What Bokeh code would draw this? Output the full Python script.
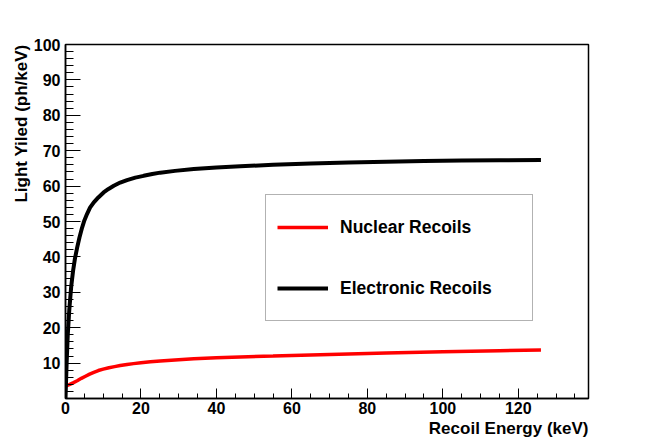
from bokeh.plotting import figure
from bokeh.models import (Range1d, FixedTicker, Title, Legend, LegendItem)
from bokeh.embed import file_html
from bokeh.resources import INLINE

# Data
energy_er = [0, 0.3, 0.6, 1, 1.5, 2, 2.5, 3.1, 3.7, 4.4, 5, 5.7, 6.5, 7.5, 8.7,
             10.1, 11.4, 12.8, 14.5, 16.3, 18.5, 20.7, 23, 25.1, 29, 34, 40,
             46.3, 55, 65, 75, 85, 95, 105, 115, 126]
ly_er = [0, 10, 18, 25, 31.5, 36, 39.5, 42.7, 45.5, 48.3, 50.3, 52.1, 53.9, 55.4, 56.8,
         58.2, 59.2, 60.1, 61.0, 61.7, 62.4, 62.9, 63.4, 63.8, 64.3, 64.8, 65.25,
         65.6, 66.0, 66.35, 66.65, 66.9, 67.1, 67.2, 67.3, 67.4]

energy_nr = [0, 1, 2, 3.1, 4.2, 5.3, 6.4, 7.5, 8.7, 10, 11.5, 13, 14.5, 16.3, 18,
             20, 22.5, 25.1, 30, 34, 40, 46.3, 55, 70, 85, 100, 115, 126]
ly_nr = [3.5, 3.9, 4.4, 5.0, 5.7, 6.3, 6.9, 7.4, 7.9, 8.3, 8.7, 9.0, 9.3, 9.6, 9.85,
         10.1, 10.35, 10.6, 10.95, 11.2, 11.5, 11.75, 12.0, 12.45, 12.85, 13.2, 13.5, 13.7]

x_major = [0, 20, 40, 60, 80, 100, 120]
x_minor = list(range(0, 140, 5))
y_major = list(range(0, 101, 10))
y_minor = list(range(0, 101, 2))

x_title = "Recoil Energy (keV)"
y_title = "Light Yiled (ph/keV)"
label_nr = "Nuclear Recoils"
label_er = "Electronic Recoils"

FONT = "Liberation Sans"

p = figure(output_backend="svg", toolbar_location=None,
           frame_width=523, frame_height=354,
           min_border_left=65, min_border_right=50,
           min_border_top=44, min_border_bottom=37,
           x_range=Range1d(0, 138.6), y_range=Range1d(0, 100))
p.background_fill_color = "white"
p.border_fill_color = "white"
p.grid.visible = False
p.outline_line_color = "black"
p.outline_line_width = 1.5

r_nr = p.line(energy_nr, ly_nr, line_color="#ff0000", line_width=3.5)
r_er = p.line(energy_er, ly_er, line_color="black", line_width=4)

xa = p.xaxis[0]
xa.ticker = FixedTicker(ticks=x_major, minor_ticks=x_minor)
xa.major_tick_in = 10
xa.major_tick_out = 0
xa.minor_tick_in = 5
xa.minor_tick_out = 0
xa.major_label_standoff = 3
xa.axis_line_width = 1.5

ya = p.yaxis[0]
ya.ticker = FixedTicker(ticks=y_major, minor_ticks=y_minor)
ya.major_tick_in = 15
ya.major_tick_out = 0
ya.minor_tick_in = 8
ya.minor_tick_out = 0
ya.major_label_standoff = 5
ya.major_label_overrides = {0: ""}
ya.axis_line_width = 1.5

for ax in (xa, ya):
    ax.major_label_text_font = FONT
    ax.major_label_text_font_style = "bold"
    ax.major_label_text_font_size = "16px"
    ax.major_label_text_color = "black"
    ax.axis_line_color = "black"
    ax.major_tick_line_color = "black"
    ax.minor_tick_line_color = "black"

p.add_layout(Title(text=x_title, align="right", standoff=0, offset=0,
                   text_font=FONT, text_font_style="bold",
                   text_font_size="17px", text_color="black"), "below")
p.add_layout(Title(text=y_title, align="right", standoff=0, offset=0,
                   text_font=FONT, text_font_style="bold",
                   text_font_size="17px", text_color="black"), "left")

legend = Legend(items=[LegendItem(label=label_nr, renderers=[r_nr]),
                       LegendItem(label=label_er, renderers=[r_er])],
                location=(200, 77), orientation="vertical",
                padding=11, spacing=19, margin=0,
                glyph_width=51, glyph_height=42,
                label_height=42, label_width=181, label_standoff=12,
                label_text_font=FONT, label_text_font_style="bold",
                label_text_font_size="17.5px", label_text_color="black",
                border_line_color="#666666", border_line_width=1,
                background_fill_color="white", background_fill_alpha=1)
p.add_layout(legend)

open("out.html", "w").write(file_html(p, INLINE))
